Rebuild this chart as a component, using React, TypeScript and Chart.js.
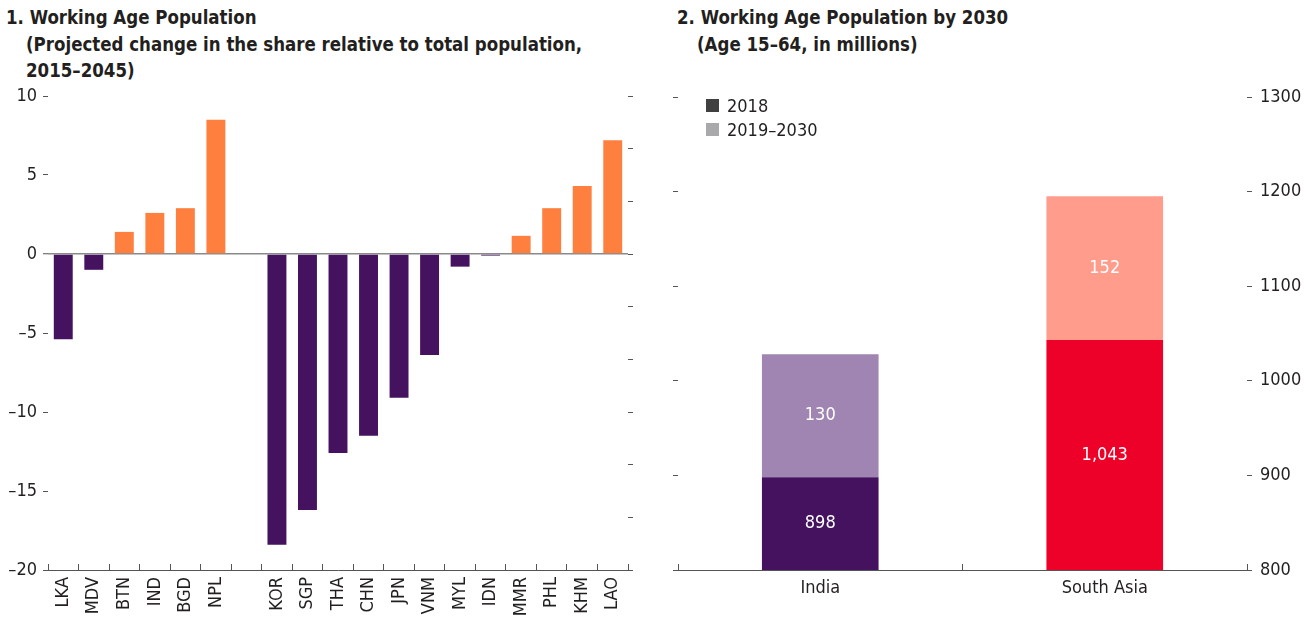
import React, { useEffect, useRef } from 'react';
import { Chart, registerables } from 'chart.js';
Chart.register(...registerables);

// ---- Data ----
const countries = ['LKA', 'MDV', 'BTN', 'IND', 'BGD', 'NPL', '', 'KOR', 'SGP', 'THA', 'CHN', 'JPN', 'VNM', 'MYL', 'IDN', 'MMR', 'PHL', 'KHM', 'LAO'];
const shareChange: (number | null)[] = [-5.4, -1.0, 1.4, 2.6, 2.9, 8.5, null, -18.4, -16.2, -12.6, -11.5, -9.1, -6.4, -0.8, -0.1, 1.15, 2.9, 4.3, 7.2];
const leftMin = -20;
const leftMax = 10;
const leftStep = 5;

const regions = ['India', 'South Asia'];
const seriesNames = ['2018', '2019–2030'];
const pop2018 = [898, 1043];
const popAdded = [130, 152];
const rightMin = 800;
const rightMax = 1300;
const rightStep = 100;

// ---- Styles ----
const FONT = "'Liberation Sans Narrow', 'Arial Narrow', 'DejaVu Sans Condensed', sans-serif";
const PURPLE = '#44125F';
const ORANGE = '#FF7F3F';
const TICK = '#555555';
const TEXT = '#231F20';

const fmtSigned = (v: number) => (v < 0 ? '\u2013' + Math.abs(v) : String(v));

const noVPad = (s: any) => { s.paddingTop = 0; s.paddingBottom = 0; };

const valueLabels = {
  id: 'valueLabels',
  afterDatasetsDraw(chart: any) {
    const { ctx, chartArea } = chart;
    ctx.save();
    ctx.font = `18px ${FONT}`;
    ctx.fillStyle = '#ffffff';
    ctx.textAlign = 'center';
    ctx.textBaseline = 'middle';
    chart.data.datasets.forEach((ds: any, di: number) => {
      const meta = chart.getDatasetMeta(di);
      meta.data.forEach((el: any, i: number) => {
        const { x, y, base } = el.getProps(['x', 'y', 'base'], true);
        const top = Math.max(Math.min(y, base), chartArea.top);
        const bot = Math.min(Math.max(y, base), chartArea.bottom);
        ctx.fillText(Number(ds.data[i]).toLocaleString('en-US'), x, (top + bot) / 2);
      });
    });
    ctx.restore();
  },
};

export default function App() {
  const leftRef = useRef<HTMLCanvasElement>(null);
  const rightRef = useRef<HTMLCanvasElement>(null);

  useEffect(() => {
    Chart.defaults.font.family = FONT;
    Chart.defaults.color = TEXT;

    const left = new Chart(leftRef.current!, {
      type: 'bar',
      data: {
        labels: countries,
        datasets: [
          {
            data: shareChange,
            backgroundColor: (c: any) => ((c.raw ?? 0) >= 0 ? ORANGE : PURPLE),
            barPercentage: 0.62,
            categoryPercentage: 1,
          },
        ],
      },
      options: {
        animation: false,
        responsive: false,
        maintainAspectRatio: false,
        layout: { padding: { top: 10, left: 0, right: 0, bottom: 0 } },
        plugins: { legend: { display: false }, tooltip: { enabled: false } },
        scales: {
          x: {
            grid: { offset: true, drawOnChartArea: false, tickLength: -6, tickColor: TICK, tickWidth: 1 },
            border: { color: TICK, width: 1 },
            ticks: { autoSkip: false, minRotation: 90, maxRotation: 90, padding: 13, color: TEXT, font: { size: 18 } },
            afterFit: (s: any) => { s.height = 48; s.paddingLeft = 0; s.paddingRight = 0; },
          },
          y: {
            position: 'left',
            min: leftMin,
            max: leftMax,
            ticks: { stepSize: leftStep, padding: 6, color: TEXT, font: { size: 18 }, callback: (v: any) => fmtSigned(Number(v)) },
            grid: {
              color: (c: any) => (c.tick && c.tick.value === 0 ? '#8a8a8a' : 'rgba(0,0,0,0)'),
              lineWidth: (c: any) => (c.tick && c.tick.value === 0 ? 1.5 : 1),
              tickLength: 5,
              tickColor: TICK,
              tickWidth: 1,
            },
            border: { display: false },
            afterFit: (s: any) => { s.width = 48; noVPad(s); },
          },
          y2: {
            position: 'right',
            min: 0,
            max: 9,
            ticks: { stepSize: 1, padding: 0, callback: () => '' },
            grid: { drawOnChartArea: false, tickLength: 5, tickColor: TICK, tickWidth: 1 },
            border: { display: false },
            afterFit: (s: any) => { s.width = 22; noVPad(s); },
          },
        },
      } as any,
    });

    const right = new Chart(rightRef.current!, {
      type: 'bar',
      data: {
        labels: regions,
        datasets: [
          {
            label: seriesNames[0],
            data: pop2018,
            backgroundColor: ['#45125F', '#EE0128'],
            barPercentage: 0.41,
            categoryPercentage: 1,
            clip: 0,
          },
          {
            label: seriesNames[1],
            data: popAdded,
            backgroundColor: ['#A085B2', '#FF9C8C'],
            barPercentage: 0.41,
            categoryPercentage: 1,
            clip: 0,
          },
        ],
      },
      options: {
        animation: false,
        responsive: false,
        maintainAspectRatio: false,
        layout: { padding: { top: 11, left: 0, right: 0, bottom: 0 } },
        plugins: { legend: { display: false }, tooltip: { enabled: false } },
        scales: {
          x: {
            stacked: true,
            grid: { offset: true, drawOnChartArea: false, tickLength: -6, tickColor: TICK, tickWidth: 1 },
            border: { color: TICK, width: 1 },
            ticks: { padding: 14, color: TEXT, font: { size: 18 } },
            afterFit: (s: any) => { s.height = 48; s.paddingLeft = 0; s.paddingRight = 0; },
          },
          y: {
            position: 'right',
            stacked: true,
            min: rightMin,
            max: rightMax,
            ticks: { stepSize: rightStep, padding: 8, color: TEXT, font: { size: 18 }, callback: (v: any) => String(v) },
            grid: { drawOnChartArea: false, tickLength: 5, tickColor: TICK, tickWidth: 1 },
            border: { display: false },
            afterFit: (s: any) => { s.width = 65; noVPad(s); },
          },
          yL: {
            position: 'left',
            min: rightMin,
            max: rightMax,
            ticks: { stepSize: rightStep, padding: 0, callback: () => '' },
            grid: { drawOnChartArea: false, tickLength: 5, tickColor: TICK, tickWidth: 1 },
            border: { display: false },
            afterFit: (s: any) => { s.width = 18; noVPad(s); },
          },
        },
      } as any,
      plugins: [valueLabels],
    });

    return () => {
      left.destroy();
      right.destroy();
    };
  }, []);

  const titleStyle: React.CSSProperties = {
    position: 'absolute',
    fontFamily: FONT,
    fontWeight: 'bold',
    fontSize: 20,
    lineHeight: '26px',
    color: TEXT,
    whiteSpace: 'nowrap',
    transform: 'scaleX(0.925)',
    transformOrigin: 'left center',
  };
  const legendText: React.CSSProperties = {
    position: 'absolute',
    fontFamily: FONT,
    fontSize: 18,
    lineHeight: '20px',
    color: TEXT,
    whiteSpace: 'nowrap',
  };

  return (
    <div style={{ position: 'fixed', left: 0, top: 0, width: 1312, height: 618, background: '#fff', overflow: 'hidden' }}>
      <div style={{ ...titleStyle, left: 6, top: 4 }}>1. Working Age Population</div>
      <div style={{ ...titleStyle, left: 26, top: 31 }}>(Projected change in the share relative to total population,</div>
      <div style={{ ...titleStyle, left: 26, top: 57 }}>2015–2045)</div>
      <div style={{ ...titleStyle, left: 677, top: 4 }}>2. Working Age Population by 2030</div>
      <div style={{ ...titleStyle, left: 697, top: 31 }}>(Age 15–64, in millions)</div>

      <canvas ref={leftRef} width={650} height={532} style={{ position: 'absolute', left: 0, top: 86, width: 650, height: 532 }} />
      <canvas ref={rightRef} width={652} height={532} style={{ position: 'absolute', left: 660, top: 86, width: 652, height: 532 }} />

      <div style={{ position: 'absolute', left: 706, top: 99, width: 13, height: 13, background: '#404040' }} />
      <div style={{ ...legendText, left: 727, top: 96 }}>{seriesNames[0]}</div>
      <div style={{ position: 'absolute', left: 706, top: 123, width: 13, height: 13, background: '#A9A9AB' }} />
      <div style={{ ...legendText, left: 727, top: 120 }}>{seriesNames[1]}</div>
    </div>
  );
}
